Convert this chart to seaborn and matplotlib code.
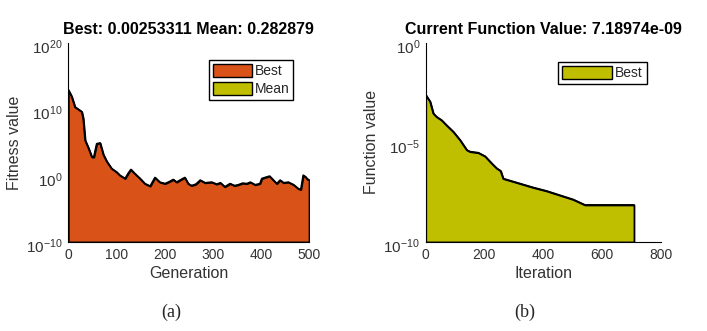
import numpy as np
import pandas as pd
import matplotlib
matplotlib.use("Agg")
import matplotlib.pyplot as plt
import matplotlib.transforms as mtransforms
import seaborn as sns
from matplotlib.patches import Patch
from matplotlib.ticker import NullLocator, LogFormatterSciNotation

# (a) GA fitness history
generation = [0, 7, 14, 18, 28, 31, 35, 42, 49, 53, 59, 66, 73, 80, 90, 100, 107, 118,
              125, 130, 138, 149, 159, 170, 180, 190, 201, 210, 218, 225, 232, 242, 249,
              256, 265, 274, 284, 298, 308, 316, 325, 336, 345, 353, 362, 371, 378, 388,
              398, 402, 412, 418, 426, 433, 440, 447, 457, 468, 478, 483, 488, 493, 497,
              500]
best_fitness = [8e12, 8e11, 2e10, 1.3e10, 4e9, 4e8, 2e5, 1.3e4, 6e2, 6e2, 6e4, 8e4,
                1.3e3, 1.3e2, 11, 3.5, 1.1, 0.35, 2.5, 8, 2, 0.35, 0.06, 0.025, 0.5,
                0.1, 0.06, 0.12, 0.25, 0.1, 0.2, 0.5, 0.06, 0.03, 0.05, 0.2, 0.08, 0.1,
                0.05, 0.08, 0.02, 0.06, 0.03, 0.04, 0.07, 0.06, 0.1, 0.04, 0.06, 0.35,
                0.6, 0.8, 0.2, 0.06, 0.2, 0.08, 0.1, 0.04, 0.01, 0.008, 1.1, 0.6, 0.25,
                0.25]

# (b) current function value per iteration
iteration = [0, 1, 15, 26, 37, 54, 71, 94, 117, 140, 151, 179, 202, 225, 242, 255,
             264, 275, 321, 366, 412, 457, 502, 542, 709]
func_value = [2.3e-3, 2.3e-3, 1.1e-3, 2.8e-4, 1.9e-4, 1.3e-4, 7.2e-5, 3.4e-5, 1.3e-5,
              4.1e-6, 3.4e-6, 3.0e-6, 2.0e-6, 8.7e-7, 4.9e-7, 3.7e-7, 1.5e-7, 1.35e-7,
              8.5e-8, 5.4e-8, 3.6e-8, 2.2e-8, 1.35e-8, 7.19e-9, 7.18974e-09]

orange = "#D95319"
olive = "#BFBF00"
grey = "#333333"

sns.set_theme(style="white")
plt.rcParams["font.family"] = ["Liberation Sans", "DejaVu Sans"]
plt.rcParams["mathtext.fontset"] = "custom"
plt.rcParams["mathtext.rm"] = "Liberation Sans"
plt.rcParams["mathtext.it"] = "Liberation Sans"

fig = plt.figure(figsize=(7.07, 3.31), dpi=100)
ax1 = fig.add_axes([0.0966, 0.269, 0.3405, 0.602])
ax2 = fig.add_axes([0.6021, 0.269, 0.3324, 0.602])

df_a = pd.DataFrame({"Generation": generation, "Fitness value": best_fitness})
df_b = pd.DataFrame({"Iteration": iteration, "Function value": func_value})


def area(ax, df, x, y, color, base):
    ax.fill_between(df[x], df[y], base, facecolor=color, edgecolor="black", linewidth=1.3)
    sns.lineplot(data=df, x=x, y=y, ax=ax, color="black", linewidth=1.3)


def style(ax, ticks, xlim, xticks, ylim):
    ax.set_yscale("log")
    ax.set_xlim(*xlim)
    ax.set_ylim(*ylim)
    ax.set_xticks(xticks)
    ax.set_yticks(ticks)
    ax.yaxis.set_major_formatter(LogFormatterSciNotation())
    ax.yaxis.set_minor_locator(NullLocator())
    sns.despine(ax=ax)
    for s in ["left", "bottom"]:
        ax.spines[s].set_color("black")
        ax.spines[s].set_linewidth(0.8)
    ax.tick_params(axis="both", direction="in", length=3, width=0.6, colors=grey, pad=4)
    ax.tick_params(axis="x", labelsize=10)
    ax.tick_params(axis="y", labelsize=11, pad=4)
    # MATLAB puts the 10^n labels a touch below the tick
    shift = mtransforms.ScaledTranslation(0, -2.5 / 72, fig.dpi_scale_trans)
    for lab in ax.get_yticklabels():
        lab.set_transform(lab.get_transform() + shift)


area(ax1, df_a, "Generation", "Fitness value", orange, 1e-10)
style(ax1, [1e-10, 1e0, 1e10, 1e20], (0, 500), [0, 100, 200, 300, 400, 500], (1e-10, 1e20))
ax1.set_title("Best: 0.00253311 Mean: 0.282879", fontsize=11.5, fontweight="bold",
              color="black", pad=6)
ax1.set_xlabel("Generation", fontsize=11.5, color=grey, labelpad=3)
ax1.set_ylabel("Fitness value", fontsize=11.5, color=grey, labelpad=3)
ax1.legend(handles=[Patch(facecolor=orange, edgecolor="black", label="Best"),
                    Patch(facecolor=olive, edgecolor="black", label="Mean")],
           loc="upper right", bbox_to_anchor=(0.935, 0.915), fontsize=10, fancybox=False,
           framealpha=1, edgecolor="black", handlelength=2.8, handleheight=1.1,
           handletextpad=0.2, borderpad=0.3, labelspacing=0.25, borderaxespad=0)

area(ax2, df_b, "Iteration", "Function value", olive, 1e-10)
style(ax2, [1e-10, 1e-5, 1e0], (0, 800), [0, 200, 400, 600, 800], (1e-10, 1e0))
ax2.set_title("Current Function Value: 7.18974e-09", fontsize=11.5, fontweight="bold",
              color="black", pad=6)
ax2.set_xlabel("Iteration", fontsize=11.5, color=grey, labelpad=3)
ax2.set_ylabel("Function value", fontsize=11.5, color=grey, labelpad=3)
ax2.legend(handles=[Patch(facecolor=olive, edgecolor="black", label="Best")],
           loc="upper right", bbox_to_anchor=(0.94, 0.905), fontsize=10, fancybox=False,
           framealpha=1, edgecolor="black", handlelength=3.6, handleheight=1.1,
           handletextpad=0.2, borderpad=0.3, borderaxespad=0)

fig.text(171 / 707, 1 - 312 / 331, "(a)", ha="center", va="center", fontsize=13,
         family=["Liberation Serif", "DejaVu Serif"])
fig.text(525 / 707, 1 - 312 / 331, "(b)", ha="center", va="center", fontsize=13,
         family=["Liberation Serif", "DejaVu Serif"])

fig.savefig("out.png", dpi=100)
